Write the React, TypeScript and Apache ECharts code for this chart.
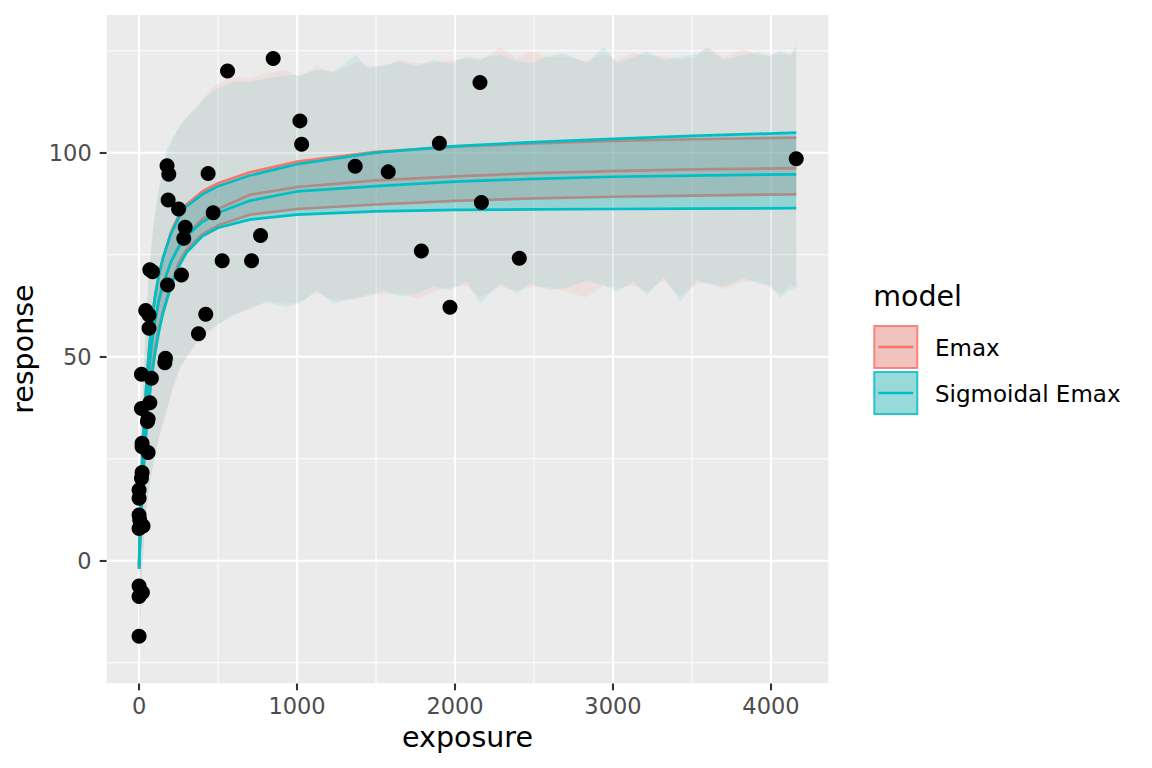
import React, { useEffect, useRef } from "react";
import * as echarts from "echarts";

const FONT = "DejaVu Sans";
const COL_EMAX = "#F8766D";
const COL_SIG = "#00BFC4";

// observed data points
const exposure = [
  0, 0, 21, 0, 0, 25, 4, 0, 0, 0, 15, 19, 57, 19, 19, 53, 57, 15, 68, 15, 78,
  163, 167, 376, 63, 63, 422, 42, 180, 268, 85, 68, 526, 712, 283, 769, 292,
  469, 250, 184, 188, 437, 177, 560, 849, 1018, 1029, 1368, 1577, 1901, 2158,
  2167, 1787, 2407, 1968, 4160,
];
const response = [
  -18.5, -8.8, -7.8, -6.2, 7.9, 8.5, 10.0, 11.2, 15.3, 17.3, 20.2, 21.6, 26.5,
  27.9, 28.8, 34.1, 34.7, 37.3, 38.7, 45.7, 44.7, 48.5, 49.6, 55.6, 57.0, 60.2,
  60.4, 61.3, 67.6, 70.0, 70.8, 71.3, 73.5, 73.5, 79.0, 79.7, 81.7, 85.3, 86.2,
  88.4, 94.7, 94.9, 96.8, 120.0, 123.1, 107.8, 102.1, 96.7, 95.3, 102.3, 117.2,
  87.8, 75.9, 74.1, 62.1, 98.5,
];

// fitted curves and confidence bounds
const curveX = [0, 5, 10, 20, 30, 40, 60, 80, 100, 125, 150, 200, 250, 300, 400, 500, 700, 1000, 1500, 2000, 2500, 3000, 3500, 4160];
const emaxMedian = [-1.5, 5.5, 11.6, 21.6, 29.5, 36.0, 45.8, 52.9, 58.3, 63.5, 67.4, 73.1, 77.0, 79.9, 83.7, 86.2, 89.7, 91.6, 93.2, 94.2, 95.0, 95.5, 95.9, 96.2];
const emaxUpper = [-1, 7.5, 14.5, 25.5, 33.5, 40, 50.5, 58.5, 64.5, 70, 74, 80.3, 84.5, 87.3, 90.5, 92.5, 95.2, 97.8, 100.2, 101.5, 102.3, 102.9, 103.3, 103.7];
const emaxLower = [-2, 3.5, 8.8, 17, 24, 30, 39.5, 46.5, 51.8, 57, 61, 67.5, 73, 76.2, 80.0, 82.2, 84.8, 86.2, 87.3, 88.2, 88.8, 89.2, 89.5, 89.8];
const sigMedian = [-1.5, 4.5, 10.5, 20.5, 28.8, 35.5, 46, 53.2, 58.6, 63.8, 67.6, 73.1, 76.8, 79.5, 83.0, 85.3, 88.2, 90.5, 91.8, 92.9, 93.6, 94.1, 94.4, 94.7];
const sigUpper = [-1, 7, 14, 25, 33, 39.5, 50, 58.5, 64.5, 70, 74, 80, 84, 86.8, 89.8, 91.8, 94.4, 97.2, 100.0, 101.6, 102.6, 103.4, 104.1, 104.9];
const sigLower = [-2, 3, 8, 16, 23, 29, 38, 45, 50.5, 56, 60.5, 67, 72, 75.5, 79.5, 81.6, 83.6, 84.8, 85.6, 86.0, 86.1, 86.2, 86.3, 86.4];

// prediction intervals
const piX = [0, 20, 40, 60, 90, 120, 174, 215, 258, 300, 365, 427, 480, 595, 701, 807, 934, 1018, 1124, 1230, 1377, 1441, 1546, 1652, 1760, 1863, 1968, 2074, 2159, 2285, 2391, 2476, 2602, 2687, 2835, 2941, 3025, 3130, 3215, 3320, 3426, 3531, 3595, 3700, 3827, 3920, 3995, 4059, 4122, 4160];
const sigPiUpper = [18.5, 38, 56, 70, 82, 90.5, 100.7, 103.9, 106.5, 108.8, 111, 113.7, 115.4, 117.4, 117.4, 118.2, 119.0, 119.0, 120.3, 119.9, 124.0, 120.7, 121.5, 122.3, 121.2, 122.7, 121.8, 123.5, 123.1, 124.0, 122.5, 121.9, 123.8, 124.4, 121.9, 126.0, 121.9, 123.4, 124.8, 122.8, 123.5, 124.2, 125.6, 122.7, 123.9, 124.6, 123.5, 125.2, 123.7, 126.4];
const sigPiLower = [-22.5, -2, 10, 17, 23.5, 29.6, 37, 43, 47.5, 50, 53.3, 56, 57.6, 60, 62, 63.3, 62.2, 63.1, 66.3, 63.1, 64.5, 64.7, 66.3, 64.8, 65.5, 67.2, 66.3, 68.4, 63.1, 68, 65.5, 68.0, 66.3, 66.8, 68.6, 67.5, 65.9, 68.5, 65.1, 69.6, 63.5, 68.8, 67.8, 67.2, 69.2, 67.9, 67.6, 64.3, 66.5, 66.8];
const emaxPiUpper = [18, 37.5, 55, 69, 81, 89.5, 99.5, 103.5, 106.5, 108.5, 111.5, 114.5, 116.5, 118.6, 118.2, 119.5, 120.2, 118.5, 121.2, 119.5, 122.2, 121.5, 121.0, 122.8, 122.0, 122.0, 122.6, 123.2, 122.4, 125.8, 123.0, 124.8, 123.4, 123.6, 122.5, 124.2, 122.6, 124.4, 123.8, 123.6, 122.8, 123.6, 126.0, 123.4, 125.3, 123.8, 124.2, 124.0, 124.3, 125.0];
const emaxPiLower = [-22, -1.5, 10.5, 17.5, 24, 29, 36.5, 42, 47, 49.5, 53.8, 55.5, 57.2, 60.5, 61.5, 63.8, 63, 63.6, 65.6, 64, 64, 65.5, 65.2, 65.6, 64.2, 66.0, 67.0, 67.4, 64.5, 67.2, 66.2, 67.0, 67.1, 66.0, 64.6, 67.6, 66.8, 67.5, 66.0, 68.6, 64.8, 67.8, 68.3, 66.5, 68.4, 68.6, 66.8, 65.5, 67.2, 67.4];

// axes
const xTicks = [0, 1000, 2000, 3000, 4000];
const xMinor = [500, 1500, 2500, 3500];
const yTicks = [0, 50, 100];
const yMinor = [-25, 25, 75, 125];
const modelNames = ["Emax", "Sigmoidal Emax"];

function ribbon(name: string, xs: number[], lo: number[], hi: number[], fill: string, z: number) {
  return {
    type: "custom",
    name,
    silent: true,
    clip: true,
    z,
    data: [[xs[0], lo[0]]],
    renderItem: (_params: any, api: any) => {
      const pts: number[][] = [];
      for (let i = 0; i < xs.length; i++) pts.push(api.coord([xs[i], hi[i]]));
      for (let i = xs.length - 1; i >= 0; i--) pts.push(api.coord([xs[i], lo[i]]));
      return { type: "polygon", shape: { points: pts }, style: { fill } };
    },
  };
}

function curve(name: string, ys: number[], color: string, z: number) {
  return {
    type: "line",
    name,
    z,
    data: curveX.map((x, i) => [x, ys[i]]),
    symbol: "none",
    showSymbol: false,
    silent: true,
    clip: true,
    lineStyle: { color, width: 2.7 },
    itemStyle: { color },
  };
}

export default function App() {
  const ref = useRef<HTMLDivElement>(null);
  useEffect(() => {
    const chart = echarts.init(ref.current as HTMLDivElement, null, { renderer: "svg" });

    const gridData: number[][] = [
      ...xTicks.map((v) => [v, 0, 0]),
      ...xMinor.map((v) => [v, 0, 1]),
      ...yTicks.map((v) => [0, v, 2]),
      ...yMinor.map((v) => [0, v, 3]),
    ];

    const legendKeyX = 873.3;
    const legendKeys = [
      { y: 325, fill: "#f1c3bf", stroke: "rgba(248,118,109,0.85)", line: COL_EMAX },
      { y: 371, fill: "#99d9da", stroke: "rgba(0,191,196,0.85)", line: COL_SIG },
    ];

    const graphic: any[] = [
      {
        type: "text",
        x: legendKeyX,
        y: 296,
        style: {
          text: "model",
          fill: "#000",
          fontSize: 28.5,
          fontFamily: FONT,
          align: "left",
          verticalAlign: "middle",
          textAlign: "left",
          textVerticalAlign: "middle",
        },
      },
    ];
    legendKeys.forEach((k, i) => {
      graphic.push({
        type: "rect",
        shape: { x: legendKeyX + 1, y: k.y + 1, width: 43, height: 42 },
        style: { fill: k.fill, stroke: k.stroke, lineWidth: 2 },
      });
      graphic.push({
        type: "line",
        shape: { x1: legendKeyX + 5, y1: k.y + 22, x2: legendKeyX + 40, y2: k.y + 22 },
        style: { stroke: k.line, lineWidth: 2.7 },
      });
      graphic.push({
        type: "text",
        x: 935,
        y: k.y + 23,
        style: {
          text: modelNames[i],
          fill: "#000",
          fontSize: 23,
          fontFamily: FONT,
          align: "left",
          verticalAlign: "middle",
          textAlign: "left",
          textVerticalAlign: "middle",
        },
      });
    });

    const option: any = {
      animation: false,
      backgroundColor: "#ffffff",
      textStyle: { fontFamily: FONT },
      grid: {
        left: 106.7,
        top: 15,
        width: 721.6,
        height: 668.3,
        show: true,
        backgroundColor: "#ebebeb",
        borderWidth: 0,
        containLabel: false,
        outerBoundsMode: "none",
      },
      xAxis: {
        type: "value",
        min: -205,
        max: 4363,
        axisLine: { show: false, onZero: false },
        splitLine: { show: false },
        axisTick: {
          show: true,
          customValues: xTicks,
          length: 7,
          lineStyle: { color: "#333333", width: 2.1 },
        },
        axisLabel: {
          customValues: xTicks,
          formatter: (v: number) => String(v),
          color: "#4d4d4d",
          fontSize: 22.5,
          fontFamily: FONT,
          margin: 11,
        },
        name: "exposure",
        nameLocation: "middle",
        nameGap: 40,
        nameTextStyle: { fontSize: 28.5, color: "#000", fontFamily: FONT },
      },
      yAxis: {
        type: "value",
        min: -30.05,
        max: 133.75,
        axisLine: { show: false, onZero: false },
        splitLine: { show: false },
        axisTick: {
          show: true,
          customValues: yTicks,
          length: 7,
          lineStyle: { color: "#333333", width: 2.1 },
        },
        axisLabel: {
          customValues: yTicks,
          formatter: (v: number) => String(v),
          color: "#4d4d4d",
          fontSize: 22.5,
          fontFamily: FONT,
          margin: 15,
        },
        name: "response",
        nameLocation: "middle",
        nameGap: 69,
        nameTextStyle: { fontSize: 28.5, color: "#000", fontFamily: FONT },
      },
      series: [
        {
          type: "custom",
          name: "gridlines",
          silent: true,
          z: 1,
          data: gridData,
          encode: { x: 0, y: 1 },
          renderItem: (params: any, api: any) => {
            const cs = params.coordSys;
            const kind = api.value(2);
            const major = kind === 0 || kind === 2;
            const style = { stroke: "#ffffff", lineWidth: major ? 2.1 : 1.05 };
            if (kind < 2) {
              const px = api.coord([api.value(0), 0])[0];
              return { type: "line", shape: { x1: px, y1: cs.y, x2: px, y2: cs.y + cs.height }, style };
            }
            const py = api.coord([0, api.value(1)])[1];
            return { type: "line", shape: { x1: cs.x, y1: py, x2: cs.x + cs.width, y2: py }, style };
          },
        },
        ribbon("Emax PI", piX, emaxPiLower, emaxPiUpper, "rgba(248,118,109,0.1)", 2),
        ribbon("Sigmoidal PI", piX, sigPiLower, sigPiUpper, "rgba(0,191,196,0.1)", 3),
        ribbon("Emax", curveX, emaxLower, emaxUpper, "rgba(248,118,109,0.3)", 4),
        curve("Emax upper", emaxUpper, COL_EMAX, 5),
        curve("Emax median", emaxMedian, COL_EMAX, 5),
        curve("Emax lower", emaxLower, COL_EMAX, 5),
        ribbon("Sigmoidal Emax", curveX, sigLower, sigUpper, "rgba(0,191,196,0.3)", 6),
        curve("Sigmoidal upper", sigUpper, COL_SIG, 7),
        curve("Sigmoidal median", sigMedian, COL_SIG, 7),
        curve("Sigmoidal lower", sigLower, COL_SIG, 7),
        {
          type: "scatter",
          name: "observed",
          z: 8,
          data: exposure.map((x, i) => [x, response[i]]),
          symbol: "circle",
          symbolSize: 15,
          itemStyle: { color: "#000000", opacity: 1 },
          silent: true,
        },
      ],
      graphic,
    };

    chart.setOption(option);
    return () => chart.dispose();
  }, []);

  return (
    <div
      ref={ref}
      style={{ position: "absolute", left: 0, top: 0, width: 1152, height: 768, background: "#ffffff" }}
    />
  );
}
